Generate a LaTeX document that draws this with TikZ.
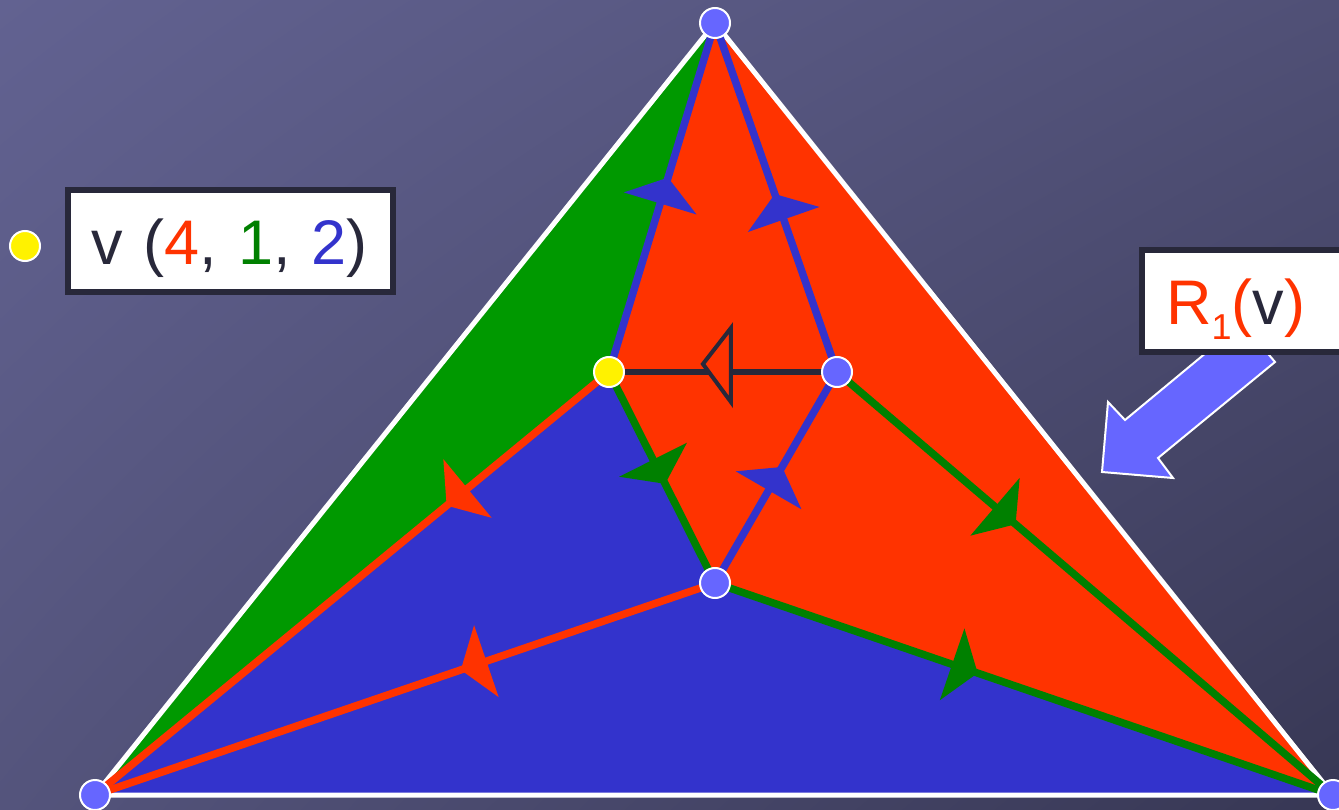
\documentclass[tikz,border=0pt]{standalone}
\usepackage{fontspec}
\setmainfont{Liberation Sans}
\usetikzlibrary{calc,decorations.markings,shadings}
\definecolor{bgUL}{RGB}{98,98,145}
\definecolor{bgUR}{RGB}{80,80,118}
\definecolor{bgLL}{RGB}{84,84,124}
\definecolor{bgLR}{RGB}{55,55,84}
\definecolor{cred}{RGB}{255,51,0}
\definecolor{cgreenF}{RGB}{0,153,0}
\definecolor{cgreenL}{RGB}{0,128,0}
\definecolor{cblue}{RGB}{51,51,204}
\definecolor{cnode}{RGB}{102,102,255}
\definecolor{cdark}{RGB}{40,40,58}
\begin{document}
\begin{tikzpicture}[x=1pt,y=-1pt,
  edge/.style={line width=7.5pt},
  midarr/.style 2 args={postaction={decorate,decoration={markings,
     mark=at position #1 with {\fill[#2] (0pt,0pt) -- (-27pt,38pt) -- (-27pt,-38pt) -- cycle;}}}},
  openarr/.style={postaction={decorate,decoration={markings,
     mark=at position #1 with {\filldraw[fill=cred,draw=cdark,line width=4pt,line join=miter] (0pt,-8pt) -- (-28pt,-44pt) -- (-28pt,30pt) -- cycle;}}}},
  dot/.style={circle,draw=white,line width=2pt,fill=cnode,minimum size=30pt,inner sep=0pt},
  ydot/.style={dot,fill=yellow},
  labelbox/.style={draw=cdark,line width=6pt,fill=white,anchor=base west,inner ysep=0pt,
     text height=75pt,text depth=27pt,align=left,font=\fontsize{63}{70}\selectfont,text=cdark},
  bigarrow/.style={fill=cnode,draw=white,line width=2pt,line join=miter}
]
\useasboundingbox (0,0) rectangle (1339,810);
\shade[upper left=bgUL,upper right=bgUR,lower left=bgLL,lower right=bgLR] (0,0) rectangle (1339,810);

% vertices
\coordinate (T) at (715,23);
\coordinate (L) at (95,795);
\coordinate (R) at (1333,795);
\coordinate (v) at (609,372);
\coordinate (A) at (837,372);
\coordinate (B) at (715,583);

% regions
\fill[cgreenF] (T) -- (v) -- (L) -- cycle;
\fill[cred] (T) -- (R) -- (B) -- (v) -- cycle;
\fill[cblue] (v) -- (B) -- (R) -- (L) -- cycle;
\draw[white,line width=5pt,line join=miter] (T) -- (L) -- (R) -- cycle;

% edges
\draw[edge,cgreenL,midarr={0.53}{cgreenL}] (v) -- (B);
\draw[edge,cgreenL,midarr={0.36}{cgreenL}] (A) -- (R);
\draw[edge,cgreenL,midarr={0.425}{cgreenL}] (B) -- (R);
\draw[edge,cred,midarr={0.316}{cred}] (v) -- (L);
\draw[edge,cred,midarr={0.41}{cred}] (B) -- (L);
\draw[edge,cblue,midarr={0.557}{cblue}] (v) -- (T);
\draw[edge,cblue,midarr={0.51}{cblue}] (A) -- (T);
\draw[edge,cblue,midarr={0.55}{cblue}] (B) -- (A);
\draw[line width=5.5pt,cdark,openarr=0.588] (A) -- (v);

% vertex dots
\node[dot] (nT) at (T) {};
\node[dot] (nL) at (L) {};
\node[dot] (nR) at (R) {};
\node[ydot] (nv) at (v) {};
\node[dot] (nA) at (A) {};
\node[dot] (nB) at (B) {};

% key
\node[ydot] (key) at (25,246) {};
\node[labelbox,inner xsep=23pt,text width=279pt] (box1) at (65,265)
  {v (\textcolor{cred}{4}, \textcolor{cgreenL}{1}, \textcolor{cblue}{2})};

% pointer arrow and R1(v) box
\filldraw[bigarrow] (1242,323) -- (1275,362) -- (1158,458) -- (1173,478) -- (1102,472) -- (1108,402) -- (1125,420) -- cycle;
\node[labelbox,inner xsep=24pt,text width=160pt] (box2) at (1139,325)
  {\textcolor{cred}{R{\fontsize{36}{36}\selectfont\raisebox{-15pt}{1}}(}v\textcolor{cred}{)}};
\end{tikzpicture}
\end{document}
